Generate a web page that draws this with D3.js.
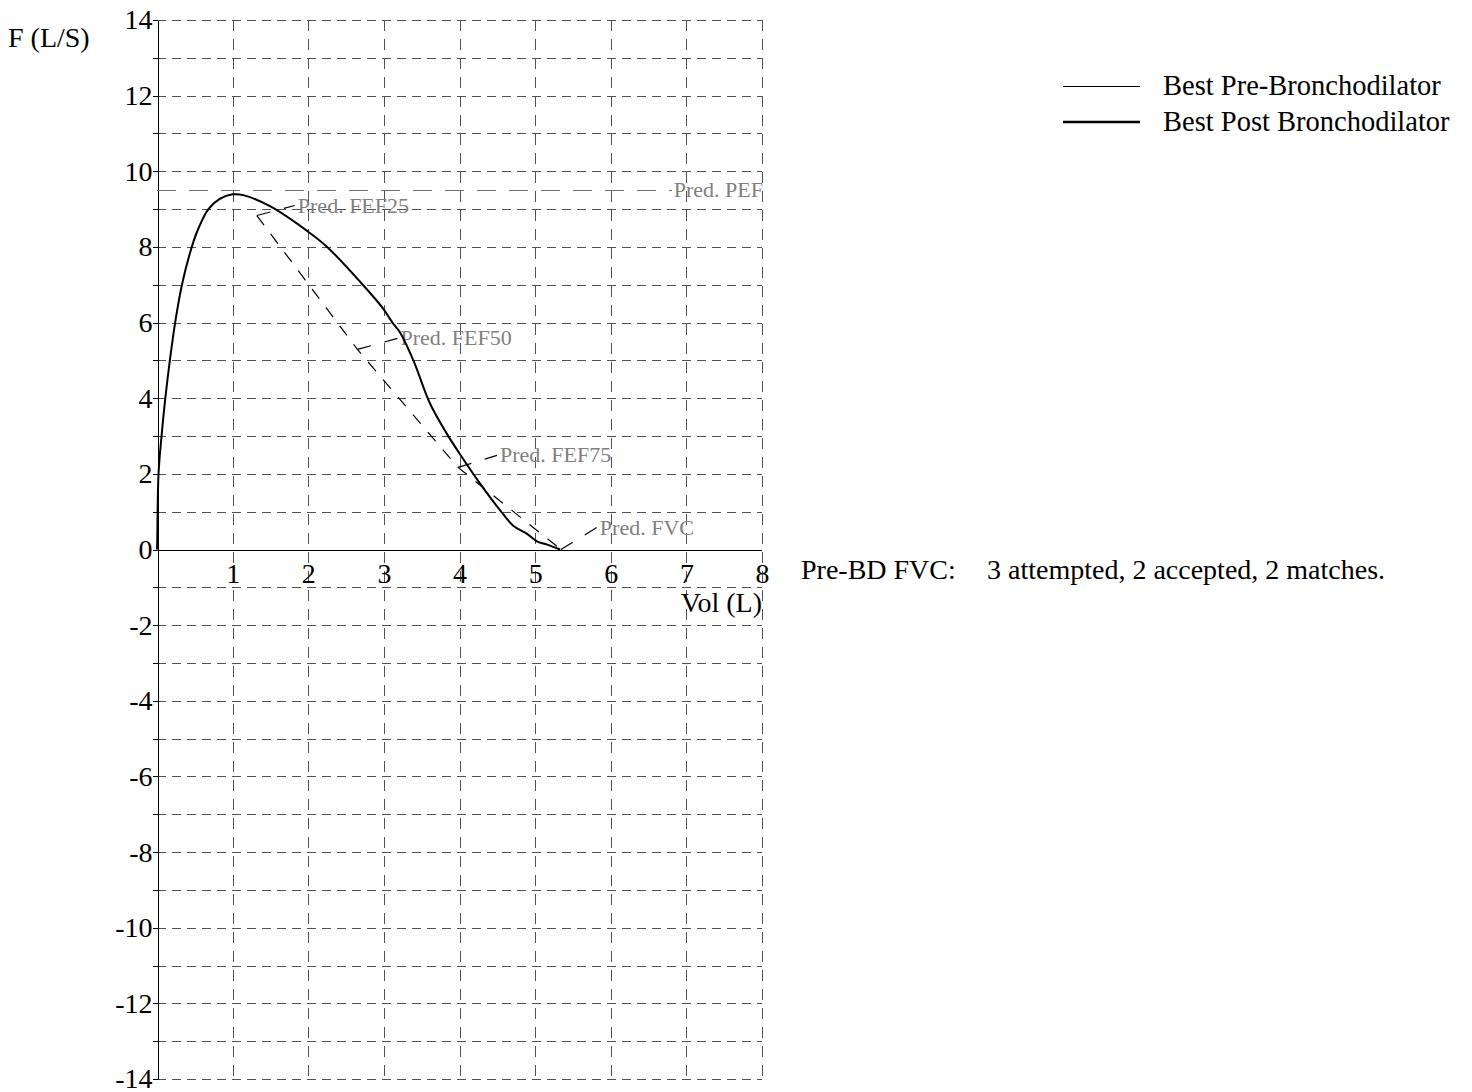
<!DOCTYPE html>
<html>
<head>
<meta charset="utf-8">
<script src="https://cdn.jsdelivr.net/npm/d3@7"></script>
<style>
  body { margin: 0; background: #fff; }
  text { font-family: "Liberation Serif", "Times New Roman", serif; }
</style>
</head>
<body>
<div id="chart-area"></div>
<script>
// measured flow-volume loop (best pre-BD)
const volume = [0, 0.003, 0.02, 0.06, 0.11, 0.17, 0.24, 0.33, 0.46, 0.55, 0.68, 0.83, 1.0, 1.14, 1.5, 1.98, 2.25, 2.73, 2.99, 3.12, 3.21, 3.39, 3.61, 3.83, 4.0, 4.27, 4.54, 4.71, 4.89, 5.03, 5.16, 5.33];
const flow = [0, 0.2, 2, 3, 4, 5, 6, 7, 8, 8.5, 9, 9.27, 9.39, 9.37, 9.07, 8.43, 8.0, 6.98, 6.37, 5.98, 5.75, 5.0, 3.86, 3.07, 2.54, 1.75, 1.03, 0.63, 0.42, 0.21, 0.13, 0];

// predicted points
const predNames = ['Pred. FEF25', 'Pred. FEF50', 'Pred. FEF75', 'Pred. FVC'];
const predVol = [1.32, 2.65, 3.98, 5.34];
const predFlow = [8.83, 5.29, 2.17, 0];
const predPEF = 9.5;

const volTicks = [1, 2, 3, 4, 5, 6, 7, 8];
const flowTicks = d3.range(-14, 15);

const legendNames = ['Best Pre-Bronchodilator', 'Best Post Bronchodilator'];
const sessionText = ['Pre-BD FVC:', '3 attempted, 2 accepted, 2 matches.'];

const widthSvg = 1472;
const heightSvg = 1092;

const svg = d3.select('#chart-area').append('svg')
  .attr('width', widthSvg)
  .attr('height', heightSvg);

const x = d3.scaleLinear().domain([0, 8]).range([157, 762]);
const y = d3.scaleLinear().domain([-14, 14]).range([1079, 20]);

// grid
svg.append('g')
  .attr('shape-rendering', 'crispEdges')
  .selectAll('line')
  .data(flowTicks.filter(d => d !== 0))
  .enter().append('line')
    .attr('x1', x(0)).attr('x2', x(8))
    .attr('y1', d => Math.round(y(d)) + 0.5).attr('y2', d => Math.round(y(d)) + 0.5)
    .attr('stroke', '#505050')
    .attr('stroke-dasharray', '9,6');

svg.append('g')
  .attr('shape-rendering', 'crispEdges')
  .selectAll('line')
  .data(volTicks)
  .enter().append('line')
    .attr('x1', d => Math.round(x(d)) + 0.5).attr('x2', d => Math.round(x(d)) + 0.5)
    .attr('y1', y(14)).attr('y2', y(-14))
    .attr('stroke', '#505050')
    .attr('stroke-dasharray', '11,8');

// axes
const axisY = d3.axisLeft(y)
  .tickValues(flowTicks)
  .tickSize(5)
  .tickSizeOuter(0)
  .tickPadding(0)
  .tickFormat(d => d % 2 === 0 ? d : '');

svg.append('g')
  .attr('transform', `translate(${Math.round(x(0)) + 0.5}, 0)`)
  .attr('shape-rendering', 'crispEdges')
  .call(axisY)
  .call(g => g.selectAll('text')
    .attr('font-size', '28px')
    .attr('font-family', '"Liberation Serif", serif')
    .attr('fill', '#000'));

const axisX = d3.axisBottom(x)
  .tickValues(volTicks)
  .tickSize(0)
  .tickSizeOuter(0)
  .tickPadding(13);

svg.append('g')
  .attr('transform', `translate(0, ${Math.round(y(0)) + 0.5})`)
  .attr('shape-rendering', 'crispEdges')
  .call(axisX)
  .call(g => g.select('.domain').attr('d', `M${x(0)},0H${x(8)}`))
  .call(g => g.selectAll('text')
    .attr('font-size', '28px')
    .attr('font-family', '"Liberation Serif", serif')
    .attr('fill', '#000'));

svg.append('text')
  .text('F (L/S)')
  .attr('x', 8).attr('y', 47)
  .attr('font-size', '28px');

svg.append('text')
  .text('Vol (L)')
  .attr('x', x(8)).attr('y', 612)
  .attr('text-anchor', 'end')
  .attr('font-size', '28px');

// predicted PEF
svg.append('line')
  .attr('x1', x(0)).attr('x2', 672)
  .attr('y1', Math.round(y(predPEF)) + 0.5).attr('y2', Math.round(y(predPEF)) + 0.5)
  .attr('shape-rendering', 'crispEdges')
  .attr('stroke', '#707070')
  .attr('stroke-dasharray', '19,13');

svg.append('text')
  .text('Pred. PEF')
  .attr('x', x(8) + 1).attr('y', y(predPEF) + 7)
  .attr('text-anchor', 'end')
  .attr('font-size', '22px')
  .attr('fill', '#808080');

// predicted curve
const predPts = predVol.map((v, i) => [v, predFlow[i]]);
svg.append('path')
  .datum(predPts)
  .attr('d', d3.line().x(d => x(d[0])).y(d => y(d[1])))
  .attr('fill', 'none')
  .attr('stroke', '#000')
  .attr('stroke-width', 1.2)
  .attr('stroke-dasharray', '12,11');

const labelOffset = [[41, -10], [43, -11], [42, -12], [39, -22]];
predPts.forEach((p, i) => {
  const px = x(p[0]);
  const py = y(p[1]);
  const lx = px + labelOffset[i][0];
  const ly = py + labelOffset[i][1];
  svg.append('line')
    .attr('x1', px).attr('y1', py)
    .attr('x2', lx - 3).attr('y2', ly)
    .attr('stroke', '#000')
    .attr('stroke-width', 1.2)
    .attr('stroke-dasharray', '14,14');
  svg.append('text')
    .text(predNames[i])
    .attr('x', lx).attr('y', ly + 7)
    .attr('font-size', '22px')
    .attr('fill', '#808080');
});

// measured curve
const pts = volume.map((v, i) => [v, flow[i]]);
svg.append('path')
  .datum(pts)
  .attr('d', d3.line().x(d => x(d[0])).y(d => y(d[1])).curve(d3.curveCatmullRom.alpha(0.5)))
  .attr('fill', 'none')
  .attr('stroke', '#000')
  .attr('stroke-width', 2);

// legend
legendNames.forEach((name, i) => {
  const ly = 86 + i * 36;
  svg.append('line')
    .attr('x1', 1063).attr('x2', 1140)
    .attr('y1', ly + (i === 0 ? 0.5 : 0)).attr('y2', ly + (i === 0 ? 0.5 : 0))
    .attr('stroke', '#000')
    .attr('stroke-width', i === 0 ? 1 : 2.4);
  svg.append('text')
    .text(name)
    .attr('x', 1163).attr('y', ly + 9)
    .attr('font-size', '28.5px');
});

svg.append('text')
  .text(sessionText[0])
  .attr('x', 801).attr('y', 579)
  .attr('font-size', '28px');

svg.append('text')
  .text(sessionText[1])
  .attr('x', 987).attr('y', 579)
  .attr('font-size', '28px');
</script>
</body>
</html>
